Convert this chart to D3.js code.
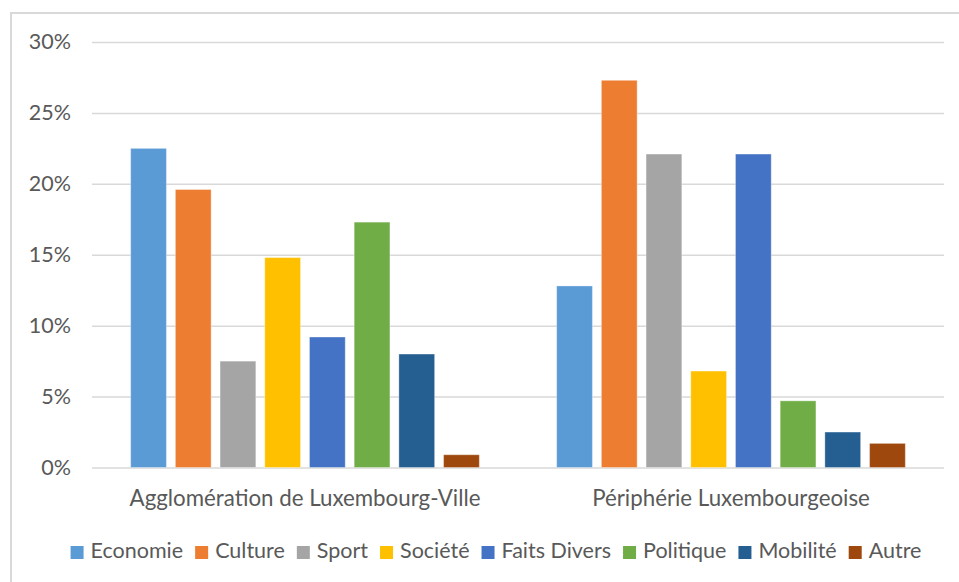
<!DOCTYPE html>
<html>
<head>
<meta charset="utf-8">
<script src="https://cdn.jsdelivr.net/npm/d3@7"></script>
<style>
  html, body { margin: 0; padding: 0; background: #fff; }
  svg { display: block; font-family: Lato, "Open Sans", sans-serif; }
</style>
</head>
<body>
<svg id="chart" width="959" height="582"></svg>
<script>
// ---- data ----
const categories = ["Agglomération de Luxembourg-Ville", "Périphérie Luxembourgeoise"];
const seriesNames = ["Economie", "Culture", "Sport", "Société", "Faits Divers", "Politique", "Mobilité", "Autre"];
const economie    = [22.5, 12.8];
const culture     = [19.6, 27.3];
const sport       = [7.5, 22.1];
const societe     = [14.8, 6.8];
const faitsDivers = [9.2, 22.1];
const politique   = [17.3, 4.7];
const mobilite    = [8.0, 2.5];
const autre       = [0.9, 1.7];
const yTicks = [0, 5, 10, 15, 20, 25, 30];
const seriesColors = ["#5B9BD5", "#ED7D31", "#A5A5A5", "#FFC000", "#4472C4", "#70AD47", "#255E91", "#9E480E"];

const seriesValues = [economie, culture, sport, societe, faitsDivers, politique, mobilite, autre];
const table = categories.map((c, i) => ({
  category: c,
  values: seriesNames.map((s, j) => ({ series: s, value: seriesValues[j][i] }))
}));

// ---- layout ----
const svg = d3.select("#chart");
const plot = { left: 92, right: 944, top: 42, bottom: 467.5 };
const textColor = "#595959";
const gridColor = "#D9D9D9";
const labelSize = "22.3px";
const legendSize = "21.5px";

// frame
svg.append("path")
  .attr("d", "M11,582 L11,13 L959,13")
  .attr("fill", "none").attr("stroke", gridColor).attr("stroke-width", 2);

const y = d3.scaleLinear().domain([0, 30]).range([plot.bottom, plot.top]);
const x0 = d3.scaleBand().domain(categories).range([plot.left, plot.right]).padding(0);
const x1 = d3.scaleBand().domain(seriesNames).range([0, x0.bandwidth()])
  .paddingInner(0.2).paddingOuter(0.865);
const color = d3.scaleOrdinal().domain(seriesNames).range(seriesColors);

// y axis with gridlines
const yAxis = d3.axisLeft(y).tickValues(yTicks).tickFormat(d => d + "%")
  .tickSize(-(plot.right - plot.left)).tickPadding(21);
const yg = svg.append("g").attr("transform", `translate(${plot.left},0)`).call(yAxis);
yg.select(".domain").remove();
yg.selectAll(".tick line").attr("stroke", gridColor).attr("stroke-width", 1.5);
yg.selectAll(".tick text").attr("fill", textColor).style("font-size", "21.5px")
  .style("font-family", "Lato, sans-serif");

// bars
const groups = svg.append("g").selectAll("g").data(table).join("g")
  .attr("transform", d => `translate(${x0(d.category)},0)`);
groups.selectAll("rect").data(d => d.values).join("rect")
  .attr("x", d => x1(d.series))
  .attr("width", x1.bandwidth())
  .attr("y", d => y(d.value))
  .attr("height", d => y(0) - y(d.value))
  .attr("fill", d => color(d.series))
  .attr("stroke", "#ffffff").attr("stroke-opacity", 0.35).attr("stroke-width", 1);

// x axis labels
const xAxis = d3.axisBottom(x0).tickSize(0).tickPadding(0);
const xg = svg.append("g").attr("transform", `translate(0,${plot.bottom})`).call(xAxis);
xg.select(".domain").remove();
xg.selectAll(".tick text").attr("fill", textColor).style("font-size", labelSize)
  .style("font-family", "Lato, sans-serif")
  .attr("dy", null).attr("y", 38.5);

// legend
const legend = svg.append("g");
const items = legend.selectAll("g").data(seriesNames).join("g");
items.append("rect").attr("width", 13).attr("height", 13).attr("y", 546)
  .attr("fill", d => color(d));
items.append("text").text(d => d).attr("x", 20).attr("y", 558)
  .attr("fill", textColor).style("font-size", legendSize).style("font-family", "Lato, sans-serif");
const widths = [];
items.each(function () {
  const w = d3.select(this).select("text").node().getComputedTextLength();
  widths.push(20 + w);
});
const total = d3.sum(widths) + 12 * (widths.length - 1);
let start = 496 - total / 2;
items.attr("transform", (d, i) => {
  const t = `translate(${start},0)`;
  start += widths[i] + 12;
  return t;
});
</script>
</body>
</html>
